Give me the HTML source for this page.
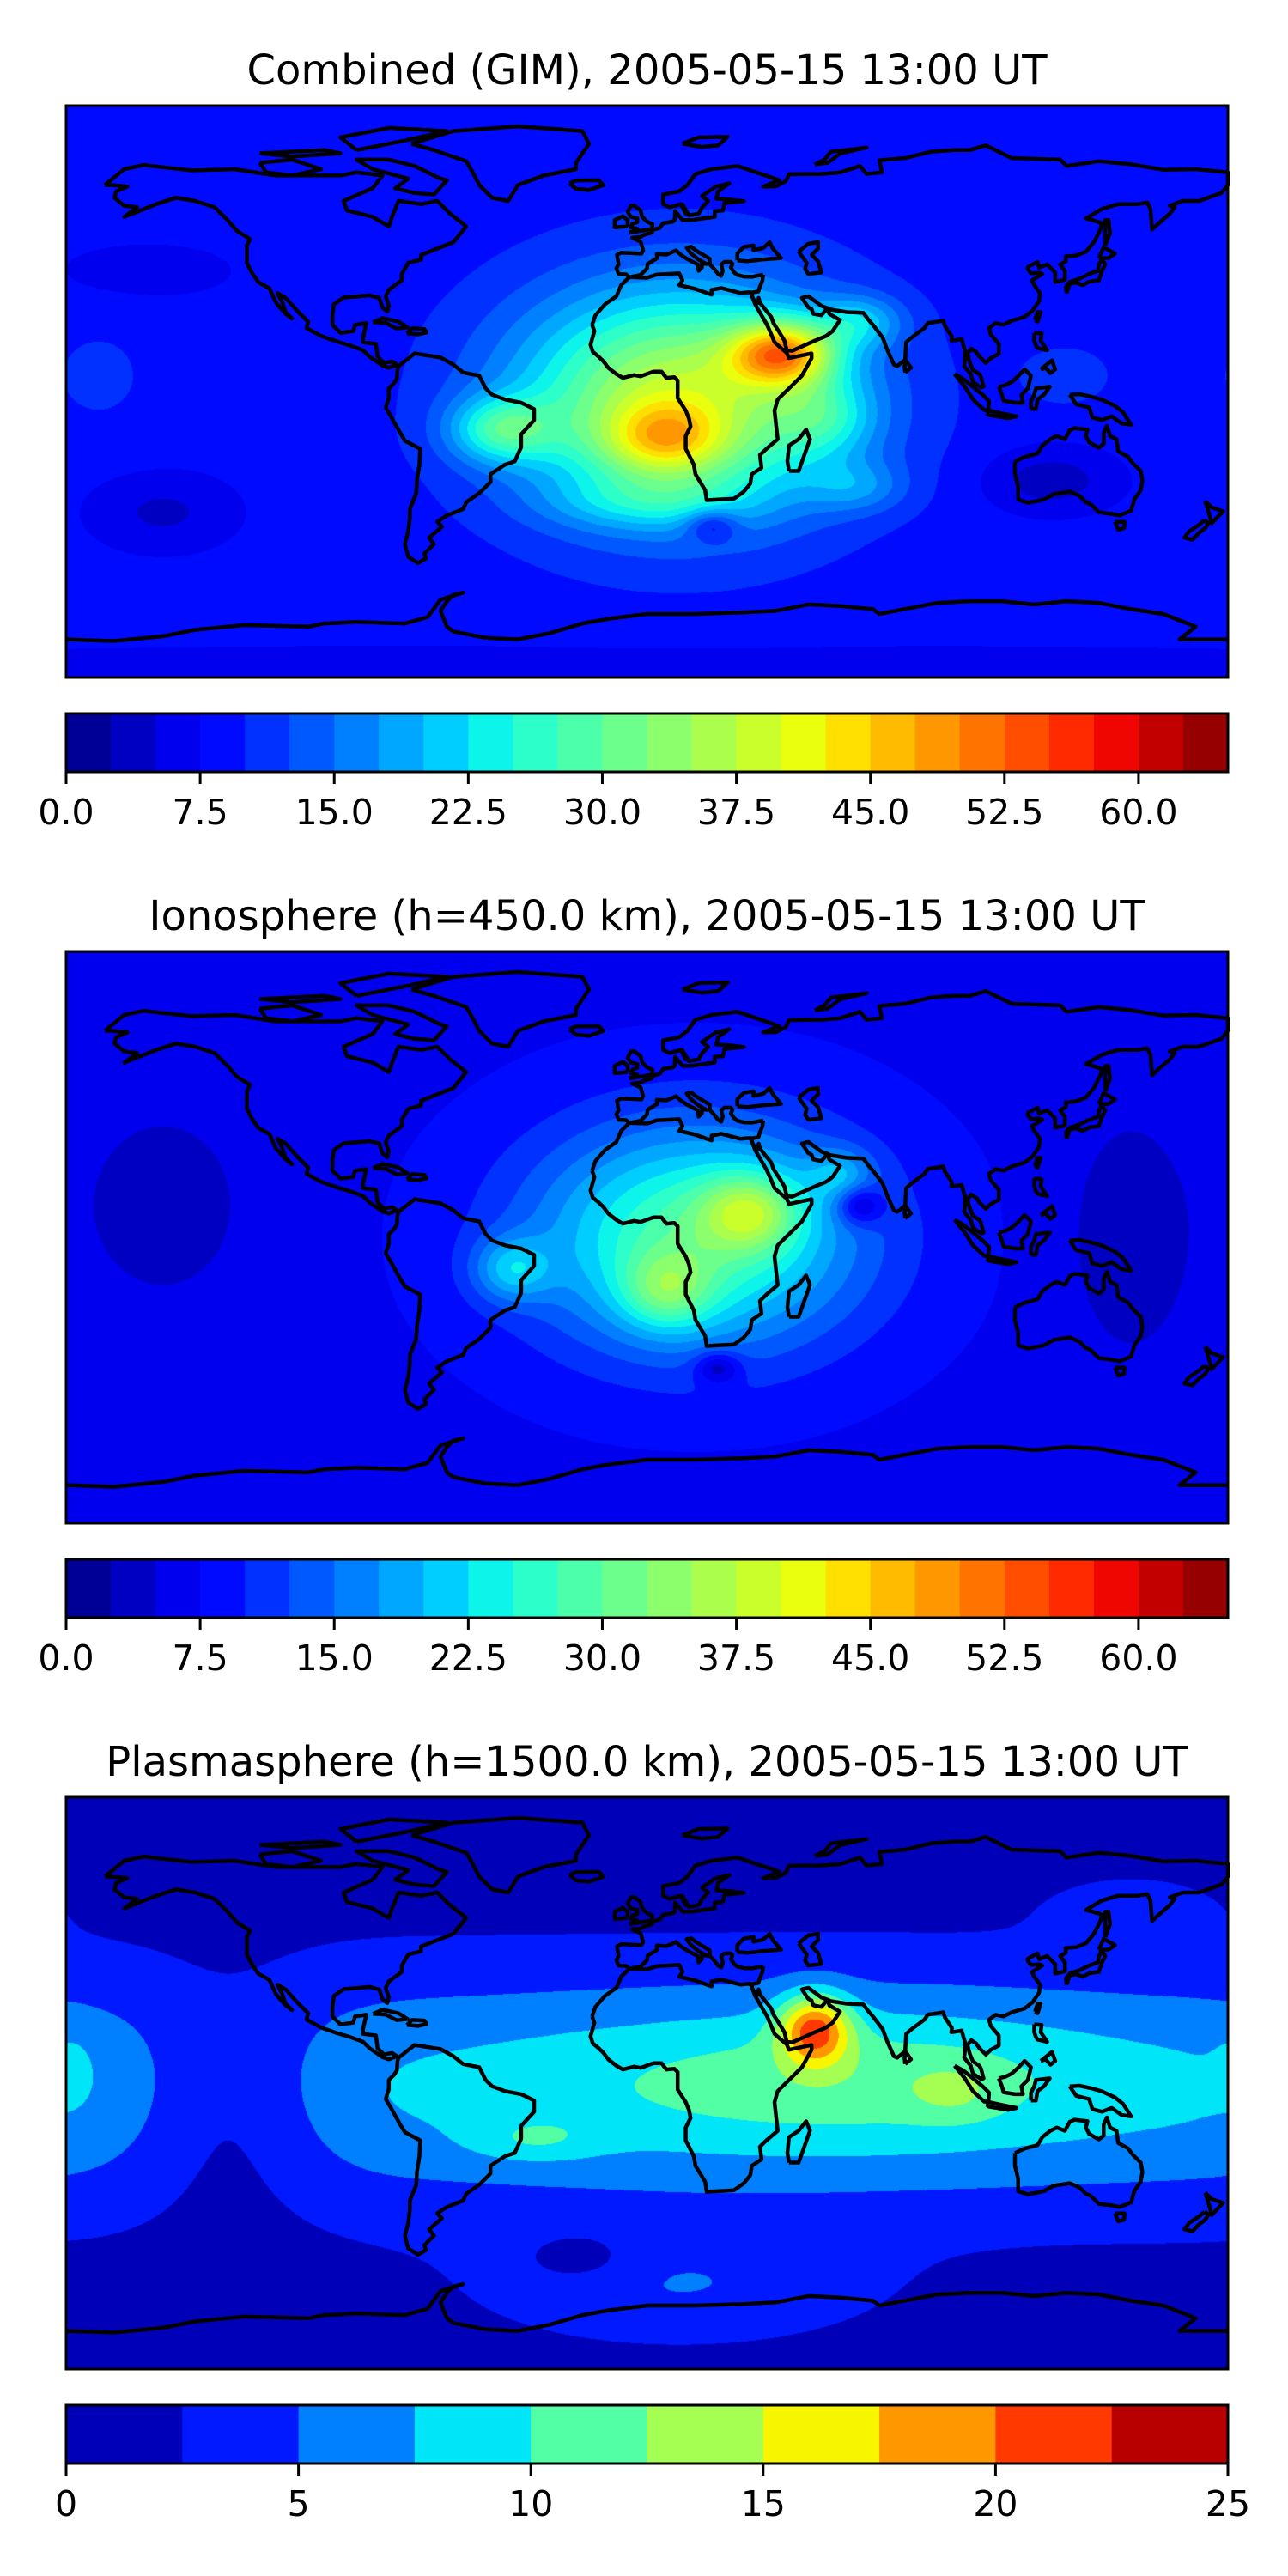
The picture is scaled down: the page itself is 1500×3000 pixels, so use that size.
<!DOCTYPE html>
<html><head><meta charset="utf-8"><style>
html,body{margin:0;padding:0;background:#fff;width:1500px;height:3000px;overflow:hidden}
#wrap{position:relative;width:1500px;height:3000px}
canvas{position:absolute}
svg{position:absolute;left:0;top:0}
</style></head><body>
<div id="wrap">
<canvas id="c0"></canvas>
<canvas id="c1"></canvas>
<canvas id="c2"></canvas>
<svg id="ov" width="1500" height="3000"></svg>
</div>
<script>
// ---- layout ----
const MAP_L=77, MAP_W=1353, MAP_H=666;
const mapTops=[123,1108,2093];
// ---- chart data ----
const titles=["Combined (GIM), 2005-05-15 13:00 UT","Ionosphere  (h=450.0 km), 2005-05-15 13:00 UT","Plasmasphere (h=1500.0 km), 2005-05-15 13:00 UT"];
const levelsA=[0,2.5,5,7.5,10,12.5,15,17.5,20,22.5,25,27.5,30,32.5,35,37.5,40,42.5,45,47.5,50,52.5,55,57.5,60,62.5,65];
const ticksA=["0.0","7.5","15.0","22.5","30.0","37.5","45.0","52.5","60.0"];
const tickValsA=[0,7.5,15,22.5,30,37.5,45,52.5,60];
const levelsB=[0,2.5,5,7.5,10,12.5,15,17.5,20,22.5,25];
const ticksB=["0","5","10","15","20","25"];
const tickValsB=[0,5,10,15,20,25];
// field blobs: [lon, lat, amplitude, sigmaLon, sigmaLat]
const baseValues=[8.5,7,1];
const blobsGIM=[[10,-3,30,50,35],[42,12,28,16,10],[66,22,9,13,8],[5,-15,14,18,11],[-45,-12,14,16,10],[55,-8,8,15,12],[0,-35,6,30,8],[20,-42,-8,8,5],[65,-30,6,15,8],[125,-28,-5,20,10],[-150,-38,-4,22,12],[-155,38,-3,25,8],[0,-88,-2,400,10],[130,5,3,15,10],[-170,5,2,20,20]];
const blobsIono=[[15,0,22,50,35],[32,8,14,15,12],[6,-17,11,14,12],[60,20,7,10,8],[-42,-10,10,12,10],[22,-41,-8,7,5],[66,10,-9,7,6],[-150,10,-4,25,30],[150,0,-4,20,40],[0,-88,-2,400,10],[0,88,-2,400,10]];
const blobsPlasma=[[60,-2,6.5,1000,40],[50,0,3.5,90,25],[80,5,1,55,18],[52,17,13,11,11],[95,-3,2.5,14,9],[-35,-18,3,20,7],[10,-65,3.5,60,18],[-20,-55,-2.5,16,8],[150,55,2.5,25,10],[-178,5,1.5,6,10],[-130,-5,-4.5,30,35]];
const allBlobs=[blobsGIM,blobsIono,blobsPlasma];
const allLevels=[levelsA,levelsA,levelsB];

function jet(x){
  function seg(pts){for(let i=1;i<pts.length;i++){if(x<=pts[i][0]){const a=pts[i-1],b=pts[i];return a[1]+(b[1]-a[1])*(x-a[0])/(b[0]-a[0]);}}return pts[pts.length-1][1];}
  const r=seg([[0,0],[0.35,0],[0.66,1],[0.89,1],[1,0.5]]);
  const g=seg([[0,0],[0.125,0],[0.375,1],[0.64,1],[0.91,0],[1,0]]);
  const b=seg([[0,0.5],[0.11,1],[0.34,1],[0.65,0],[1,0]]);
  return [Math.round(r*255),Math.round(g*255),Math.round(b*255)];
}
function binColors(levels){const n=levels.length-1;const out=[];for(let i=0;i<n;i++)out.push(jet((i+0.5)/n));return out;}
function field(blobs,base,lon,lat){
  let v=base;
  for(const b of blobs){let dl=lon-b[0];if(dl>180)dl-=360;if(dl<-180)dl+=360;
    const u=dl/b[3], w=(lat-b[1])/b[4];
    v+=b[2]*Math.exp(-(u*u)-(w*w));}
  return v;
}
for(let m=0;m<3;m++){
  const cv=document.getElementById('c'+m);
  cv.width=MAP_W;cv.height=MAP_H;cv.style.left=MAP_L+'px';cv.style.top=mapTops[m]+'px';
  const ctx=cv.getContext('2d');const img=ctx.createImageData(MAP_W,MAP_H);
  const lv=allLevels[m];const cols=binColors(lv);const step=lv[1]-lv[0];const n=lv.length-1;
  for(let y=0;y<MAP_H;y++){const lat=90-(y+0.5)/MAP_H*180;
    for(let x=0;x<MAP_W;x++){const lon=-180+(x+0.5)/MAP_W*360;
      let v=field(allBlobs[m],baseValues[m],lon,lat);
      let k=Math.floor((v-lv[0])/step);if(k<0)k=0;if(k>n-1)k=n-1;
      const c=cols[k];const p=(y*MAP_W+x)*4;
      img.data[p]=c[0];img.data[p+1]=c[1];img.data[p+2]=c[2];img.data[p+3]=255;}}
  ctx.putImageData(img,0,0);
}
// ---- coastlines (lon,lat) ----
const coasts=[
[[-168,65],[-162,70],[-156,71.3],[-141,69.6],[-128,70],[-115,68],[-95,68],[-90,69],[-82,68],[-85,64],[-94,60],[-93,57],[-85,55],[-80,52],[-79,55],[-77,60],[-70,59],[-65,60],[-61,56],[-56,52],[-60,47],[-65,45],[-70,43],[-70,41.5],[-74,40.5],[-76,37],[-76,35],[-80,32],[-81,30],[-80,27],[-80.5,25.2],[-82,26.5],[-83,29.5],[-86,30.3],[-89,30],[-94,29.6],[-97,27.5],[-97.5,24],[-97.5,21],[-95,18.5],[-91,19],[-90.5,21],[-87,21.5],[-88,17],[-88,15.5],[-84,15],[-83.5,11],[-81.5,9],[-79,9.5],[-77.5,8.5],[-80,7.5],[-82,8.2],[-86,11],[-88,13],[-92,14.5],[-96,15.7],[-101,17.5],[-105.5,20],[-105,22],[-108,25],[-112,29.5],[-114.5,31],[-113,28],[-112,25],[-110,23],[-112,24.5],[-115,28],[-117,32.5],[-120.5,34.5],[-122.5,37.5],[-124,40.5],[-124,46],[-123,48],[-127,50.5],[-130,54],[-134,58],[-140,60],[-146,61],[-152,59],[-157,57],[-162,55],[-158,58],[-162,58.5],[-165,61],[-164.5,63],[-161,64.5],[-166,65],[-168,65]],
[[-80,73],[-72,71],[-64,67],[-62,66.5],[-66,62],[-72,62.5],[-78,64],[-74,67],[-85,70],[-90,73],[-80,73]],
[[-120,72],[-110,73],[-101,70],[-110,68],[-118,69],[-120,72]],
[[-90,76],[-75,79],[-62,82],[-80,83],[-95,80],[-90,76]],
[[-120,75],[-100,76],[-95,75],[-110,74],[-120,75]],
[[-73,78],[-60,82],[-40,83.5],[-20,82],[-18,78],[-22,72],[-22,70],[-32,68],[-40,65],[-43,60],[-48,61],[-52,65],[-54,69],[-56,72.5],[-66,76],[-73,78]],
[[-24,65.5],[-22,66.4],[-15,66.5],[-13.5,65],[-18,63.4],[-22,63.8],[-24,65.5]],
[[-77,8],[-72,12],[-64,10.7],[-60,8.5],[-57,6],[-52,5],[-50,1],[-48,-1],[-44,-2.5],[-39,-3.5],[-35,-5.5],[-35,-9],[-39,-13.5],[-39,-17.5],[-41,-22],[-44,-23],[-48.5,-26],[-48.5,-28.5],[-52,-32],[-56,-34.8],[-57,-37],[-62,-39],[-65,-41],[-63.5,-42.5],[-67.5,-46],[-66,-48],[-69,-51],[-68.5,-52.5],[-71,-54],[-74,-52],[-75,-48],[-74,-44],[-73.5,-40],[-73.5,-37],[-71.5,-32],[-71.3,-28],[-70.5,-23],[-70.3,-18],[-75,-15.5],[-76.5,-13],[-79.5,-7.5],[-81,-5],[-80,-2],[-80,1],[-78.5,2.5],[-77.5,4],[-77.3,7],[-77,8]],
[[-17,21],[-16,24],[-13,27.5],[-9.5,30],[-8,33.5],[-5.5,36],[0,35.8],[3,36.8],[10,37.2],[11,35],[10,33.5],[15,32.3],[20,30.5],[20,32],[23,32.6],[29,31],[32,31.3],[32.6,29.9],[33.5,27.5],[35.5,24],[37.2,21],[38.5,18],[39.5,15.5],[41.5,13.7],[43.3,12.2],[44,10.5],[51,12],[51,10.5],[48,5],[44,1],[40.5,-2.5],[39.5,-6],[40,-10.5],[40.5,-15],[37,-18],[35,-20],[35.5,-24],[32.5,-26],[32,-29],[30,-31.5],[27,-33.7],[22,-34],[18.5,-34.2],[18,-31],[16.5,-28.5],[15,-26],[14.5,-23],[12,-18],[12,-14],[13.5,-11],[13,-8.5],[12,-6],[9.5,-2],[9.5,1],[9.5,3.5],[8.5,4.5],[6,4.3],[4.5,6.3],[2,6.3],[-2,4.8],[-4,5.2],[-7.5,4.3],[-9.5,5.5],[-12,7.5],[-13.5,9.5],[-15,11],[-16.8,12.5],[-17.5,14.7],[-16.3,19],[-17,21]],
[[36,36.8],[35.8,35],[35,33],[34.5,31.5],[32.5,31.2],[32.6,29.9],[33.6,28],[34.3,27.8],[34.6,29.5],[35,28],[36.5,26],[38.5,23.5],[39.2,21.5],[40.8,19],[42.6,16],[43.3,13],[45,12.8],[52,16],[55.5,17.5],[57.5,19],[59.8,22.5],[56.5,24.5],[56,26.3],[54,24],[51.5,24.5],[51,26],[50,26.5],[48,29.5],[50,30],[54,27],[57,25.8],[62,25],[67,24.8],[68.7,22.5],[70,21],[73,17],[74.5,13],[76.5,8.5],[77.5,8],[80,10],[80.2,13.5],[80.3,15.5],[82,17],[86,20],[87,21.6],[90,22],[91.8,22.3],[92.3,20.7],[94.5,17.3],[94.3,16],[97.5,16.5],[98.5,13],[98.5,10],[98.3,8],[100.3,5.5],[101,3],[103.5,1.3],[104.3,1.5],[103.5,4.5],[103,5.5],[101,6.8],[100,9.3],[99.3,12],[100.5,13.5],[102,12.5],[103,11],[105,9],[106.5,10.5],[109,11.8],[109,15],[106.5,18],[106,20],[108,21.5],[110.5,21],[113,22.3],[117,23.5],[119.5,25.5],[121.5,28.5],[121.8,31],[120,33.5],[119.3,35],[122.5,37],[121.5,37.4],[119,37.2],[118,38.5],[118,39.2],[121,40.8],[121.5,39],[124,40],[126.5,37.5],[126.5,34.5],[129.5,35.2],[129.5,38],[128,40],[129.8,41],[129.7,42.5],[133,42.8],[136,44],[138.5,47],[140.5,51],[141,53],[138,54],[136,54.5],[141,57.5],[146,59],[152,59],[155,59.5],[156,57.5],[156.5,51],[158,52.5],[162,56],[163.5,58],[162,58.5],[166,60],[171,60],[178,62.5],[180,65],[180,69],[170,70],[160,69.8],[150,71.5],[140,72.5],[130,71],[128,73],[113,73.5],[105,77.5],[100,76],[95,76],[88,75.5],[80,73.5],[72,72.8],[72.8,69],[68,68.5],[66,71],[60,69],[54,68.5],[44,68.4],[43,66.2],[40,64.6],[36,64.5],[41,66.5],[33,69.3],[28,71],[20,70],[15,68.5],[12.5,65],[10,63],[5,62],[5,59],[7,58],[10.5,59],[12,56],[11,58.9],[13,55.5],[16,56],[17,57.9],[19,60],[17,61.5],[21.3,64.5],[25.5,65.5],[22,63],[21.5,60.7],[26,60.4],[30,59.9],[24,59.3],[23.5,57],[21,56.8],[21,55],[18,54.6],[14,54],[11,54],[8.7,56.8],[8.6,54],[8,53.5],[5,53],[4,51.5],[2,51],[1.5,50],[-1,49.3],[-2,48.7],[-4.6,48.4],[-2,47.2],[-1.2,44.5],[-1.7,43.4],[-8,43.7],[-9.3,43],[-8.8,40],[-9.5,38.8],[-8.8,37],[-6.5,36.9],[-5.5,36],[-2,36.7],[0,38.7],[0.2,40.2],[3.2,42],[3,43.3],[6,43.1],[9,44.4],[10.5,43],[12.5,41.7],[15.7,40],[16,38],[17,39],[17,40.5],[18.5,40.1],[16,41.5],[13.5,43.6],[12.3,45.3],[13.7,45.6],[15,44.5],[19.4,41.8],[19.5,40],[21,38.4],[22,37],[23,36.4],[23.5,38],[23,40],[24,40.8],[26,40.8],[26.5,40.2],[26,39],[27,37.5],[28,36.7],[30,36.2],[32.5,36.1],[36,36.8]],
[[28,41.3],[28,43.5],[30,45.5],[33,46],[33,44.5],[36,45.2],[38,47],[39,45],[41.5,42],[36,41.6],[31,41],[28,41.3]],
[[47,44],[50,46.5],[53,47],[53,45],[51,43],[53,41],[54,37.5],[50,37],[49,38.5],[49.5,40.5],[47,44]],
[[130,31],[131,34],[133,34.3],[135,33.5],[137,34.6],[140,35],[141,38],[142,40],[141,41.5],[140,40],[139.8,38],[137,37],[134,35.5],[131,34.5],[129.8,33],[130,31]],
[[140,42],[141.5,45.4],[145,43.4],[143,42],[140,42]],
[[142,46],[143.5,50],[143,54],[142,54],[142,50],[142,46]],
[[-5.5,50],[1.5,51.2],[1.7,52.7],[0,53.5],[-1.5,55],[-2,57],[-4,58.6],[-5,58.5],[-6,56.5],[-5,55],[-3,54.5],[-3,53.3],[-4.5,52.8],[-5,51.7],[-3,51.3],[-5.5,50]],
[[-6,52],[-6,54],[-7.5,55.2],[-10,54],[-10,51.7],[-6,52]],
[[44,-25],[47,-25],[50.5,-15],[49.3,-12],[47,-15],[44,-17],[43.5,-22],[44,-25]],
[[80,6],[81.8,7.5],[80.2,9.8],[79.8,8],[80,6]],
[[95.3,5.5],[98,4],[104,-1],[106,-3],[105.8,-5.8],[104.5,-5.8],[101,-2.5],[98.5,1.5],[95.3,5.5]],
[[105.2,-6.8],[106,-6],[110,-6.9],[114.5,-7.8],[112,-8.4],[106,-7.4],[105.2,-6.8]],
[[109,1.5],[110,-1],[110.5,-2.9],[114,-3.5],[116.5,-3.5],[116,-1],[118,1],[119,5],[117,7],[115,4.8],[113,3],[111,2],[109,1.5]],
[[119,-5.5],[120.5,-5.5],[121,-2.5],[123,-1],[124.8,1.5],[120.5,1],[120,-1],[119,-3],[119,-5.5]],
[[131,-1],[134,-0.8],[138,-1.7],[141,-2.6],[145,-4.5],[147.5,-6.5],[150,-10.5],[147,-10],[144,-7.8],[141,-9],[138,-8.2],[137,-5],[133,-4],[132,-2.5],[131,-1]],
[[120,18.5],[122.3,18.3],[122,16],[124,13],[121,13.7],[120.5,14.5],[120,16],[120,18.5]],
[[122,7],[125.5,9.8],[126.5,7],[125,5.8],[123.5,7.5],[122,7]],
[[120.2,22.5],[121,25],[122,25],[121,22],[120.2,22.5]],
[[114,-22],[114,-26],[115,-30],[115,-34],[118,-35],[123,-34],[126,-32.3],[131,-31.5],[134,-32.8],[136,-34.8],[137.5,-35.5],[140,-38],[144,-38.5],[146.5,-39],[150,-37.5],[151,-34],[153,-31],[153.5,-28],[153,-25],[150.5,-22.5],[149,-20.5],[146,-18.8],[145.5,-15],[143.5,-14],[142.5,-10.8],[141.5,-13],[141.5,-16.5],[140,-17.7],[137,-16],[136,-14],[136.5,-12],[132.5,-11.5],[131,-12.2],[129.5,-15],[127,-14],[125,-15],[122.5,-17],[121,-19.5],[117,-20.6],[114,-22]],
[[145,-41],[148,-41],[147.8,-43],[146,-43.5],[145,-41]],
[[173,-34.5],[175,-36.5],[178.5,-37.7],[177,-39.3],[175,-41.5],[174.5,-39.5],[173,-34.5]],
[[172.7,-40.5],[174,-41.3],[173,-43],[171,-44.5],[169,-46.6],[166.5,-46],[168,-44],[171,-42],[172.7,-40.5]],
[[-84.9,21.8],[-82,23.1],[-77,22],[-74.2,20.2],[-77.5,19.8],[-81,21.6],[-84.9,21.8]],
[[-74.4,18.3],[-72.8,19.9],[-69,19.7],[-68.3,18.6],[-71,18],[-74.4,18.3]],
[[52,71.5],[55,73],[57,75.5],[68,76.8],[60,75],[56,72],[52,71.5]],
[[11,78],[16,80],[25,80.2],[22,77.5],[17,77],[11,78]],
[[-180,-78],[-165,-78.5],[-150,-77],[-140,-75],[-125,-73.5],[-105,-74],[-100,-73],[-90,-72.5],[-75,-73],[-68,-71],[-64,-65.5],[-57,-63.3],[-60,-64],[-62,-66],[-64,-69],[-62,-74],[-60,-75.5],[-50,-77.5],[-40,-78],[-30,-76],[-20,-73],[-12,-71.5],[0,-70],[15,-70],[30,-69.5],[40,-69],[50,-67],[60,-67.5],[70,-68.5],[72,-70],[77,-69],[90,-66.5],[100,-66],[110,-66],[120,-67],[130,-66],[140,-66.5],[150,-68.5],[160,-70],[165,-72],[170,-74],[165,-78],[180,-78]]
];
const NS='http://www.w3.org/2000/svg';
const ov=document.getElementById('ov');
function mk(tag,attrs){const e=document.createElementNS(NS,tag);for(const k in attrs)e.setAttribute(k,attrs[k]);ov.appendChild(e);return e;}
const names=['combined','ionosphere','plasmasphere'];
for(let m=0;m<3;m++){
  const T=mapTops[m];
  const px=lon=>MAP_L+(lon+180)/360*MAP_W, py=lat=>T+(90-lat)/180*MAP_H;
  const g=document.createElementNS(NS,'g');
  
  
  ov.appendChild(g);
  coasts.forEach((c,i)=>{
    const p=document.createElementNS(NS,'polyline');
    p.setAttribute('points',c.map(q=>px(q[0]).toFixed(1)+','+py(q[1]).toFixed(1)).join(' '));
    p.setAttribute('fill','none');p.setAttribute('stroke','#000');p.setAttribute('stroke-width','4.5');p.setAttribute('stroke-linejoin','round');
    
    
    g.appendChild(p);
  });
  const fr=mk('rect',{x:MAP_L,y:T,width:MAP_W,height:MAP_H,fill:'none',stroke:'#000','stroke-width':3});
  
  
  const t=mk('text',{x:MAP_L+MAP_W/2,y:T-25,'text-anchor':'middle','font-family':'DejaVu Sans, Liberation Sans, sans-serif','font-size':48,fill:'#000'});
  t.textContent=titles[m];
  
  
  // colorbar
  const lv=allLevels[m];const cols=binColors(lv);const n=lv.length-1;
  const cT=T+MAP_H+42, cH=68;
  const lo=lv[0],hi=lv[n];const cx=v=>MAP_L+(v-lo)/(hi-lo)*MAP_W;
  for(let i=0;i<n;i++){
    const r=mk('rect',{x:cx(lv[i]),y:cT,width:cx(lv[i+1])-cx(lv[i])+0.6,height:cH,fill:'rgb('+cols[i].join(',')+')'});
    
    
  }
  const cf=mk('rect',{x:MAP_L,y:cT,width:MAP_W,height:cH,fill:'none',stroke:'#000','stroke-width':3});
  
  
  const tv=m<2?tickValsA:tickValsB, tl=m<2?ticksA:ticksB;
  tv.forEach((v,i)=>{
    const tk=mk('line',{x1:cx(v),x2:cx(v),y1:cT+cH,y2:cT+cH+14,stroke:'#000','stroke-width':3});
    
    
    const tx=mk('text',{x:cx(v),y:cT+cH+61,'text-anchor':'middle','font-family':'DejaVu Sans, Liberation Sans, sans-serif','font-size':41,fill:'#000'});
    tx.textContent=tl[i];
    
    
  });
}
</script>
</body></html>
